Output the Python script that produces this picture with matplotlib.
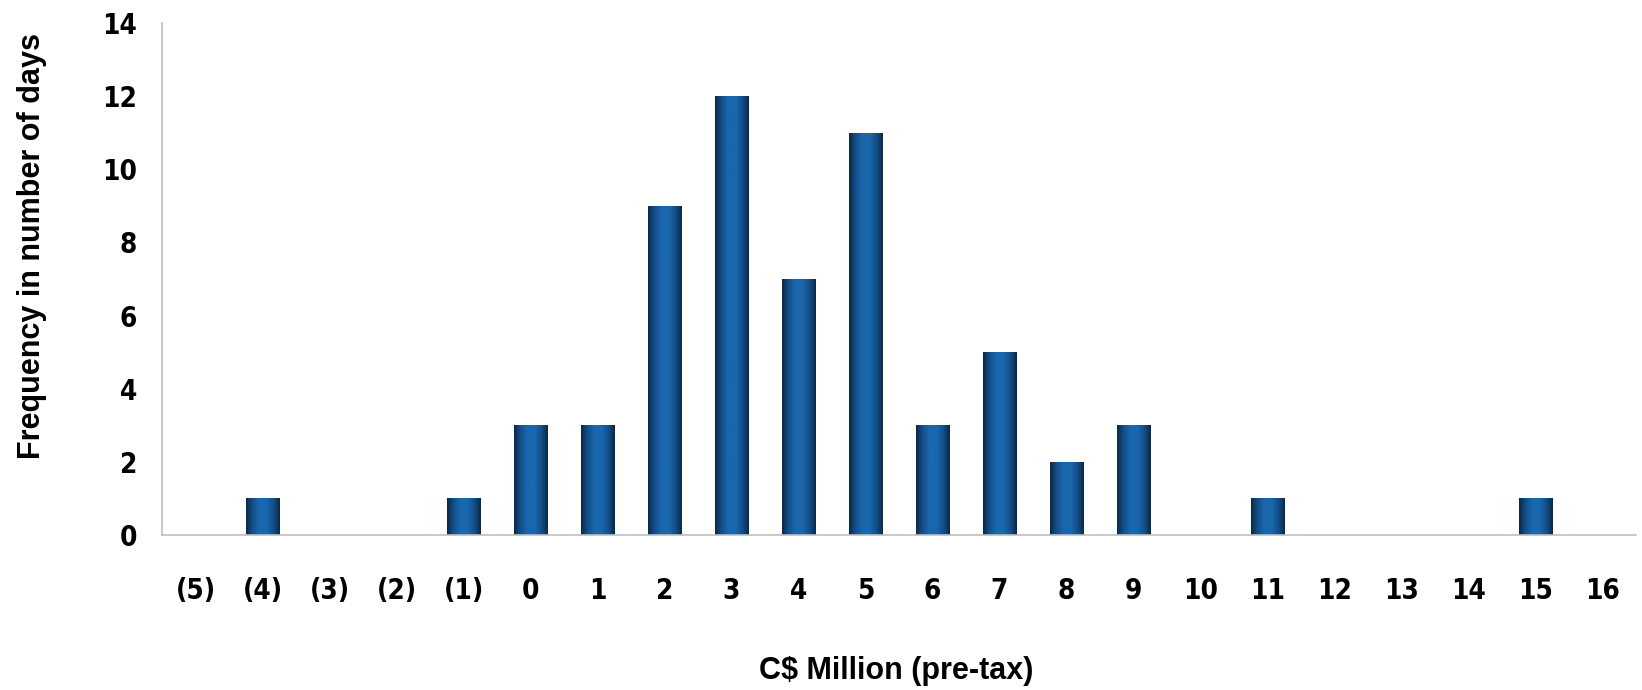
import numpy as np
import matplotlib
matplotlib.use("Agg")
import matplotlib.pyplot as plt
from matplotlib.colors import LinearSegmentedColormap

categories = ["(5)", "(4)", "(3)", "(2)", "(1)", "0", "1", "2", "3", "4", "5",
              "6", "7", "8", "9", "10", "11", "12", "13", "14", "15", "16"]
frequency = [0, 1, 0, 0, 1, 3, 3, 9, 12, 7, 11, 3, 5, 2, 3, 0, 1, 0, 0, 0, 1, 0]
y_ticks = [0, 2, 4, 6, 8, 10, 12, 14]

plt.rcParams['font.family'] = ['DejaVu Sans']
plt.rcParams['font.weight'] = 'bold'

fig = plt.figure(figsize=(16.42, 6.90), dpi=100)
ax = fig.add_axes([162 / 1642, 155 / 690, 1474 / 1642, 512 / 690])

x = np.arange(len(categories))
bars = ax.bar(x, frequency, width=0.5, color="none", edgecolor="none", zorder=2)

# horizontal shading: dark edges, bright centre
shade = LinearSegmentedColormap.from_list(
    "barshade", ["#0b2845", "#14508b", "#1a67ae", "#1a67ae", "#14508b", "#0b2845"])
grad = np.linspace(0, 1, 256).reshape(1, -1)
for b in bars:
    h = b.get_height()
    if h <= 0:
        continue
    x0 = b.get_x()
    im = ax.imshow(grad, cmap=shade, aspect="auto", interpolation="bilinear",
                   extent=(x0, x0 + b.get_width(), 0, h), zorder=2)
    im.set_clip_path(b)

ax.set_xlim(-0.5, len(categories) - 0.5)
ax.set_ylim(0, 14)
ax.set_yticks(y_ticks)
ax.set_yticklabels([str(t) for t in y_ticks])
ax.set_xticks(x)
ax.set_xticklabels(categories)

for side in ("top", "right"):
    ax.spines[side].set_visible(False)
for side in ("left", "bottom"):
    ax.spines[side].set_color("#bfbfbf")
    ax.spines[side].set_linewidth(1.2)

ax.tick_params(axis="both", length=0, colors="black")
ax.tick_params(axis="x", pad=30)
ax.tick_params(axis="y", pad=18)
for lbl in ax.get_xticklabels() + ax.get_yticklabels():
    lbl.set_fontweight("bold")
    lbl.set_fontstretch("condensed")
    lbl.set_fontsize(20)

label_font = dict(family=["Liberation Sans", "DejaVu Sans"], size=22, weight="bold")
ax.set_xlabel("C$ Million (pre-tax)", fontdict=label_font)
ax.set_ylabel("Frequency in number of days", fontdict=label_font)
ax.xaxis.label.set_verticalalignment("center")
ax.yaxis.label.set_verticalalignment("center")
ax.xaxis.set_label_coords(0.498, -0.266)
ax.yaxis.set_label_coords(-0.088, 0.564)

fig.savefig("out.png", dpi=100)
